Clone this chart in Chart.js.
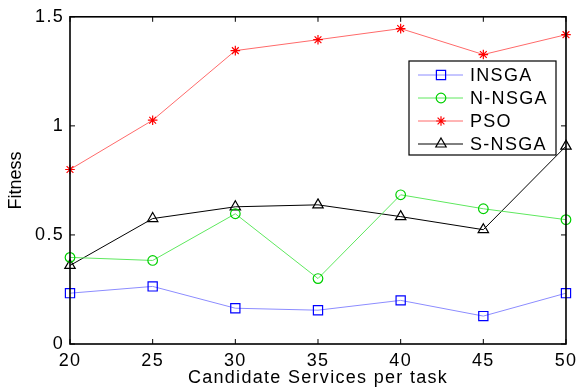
<!DOCTYPE html>
<html><head><meta charset="utf-8">
<script src="https://cdn.jsdelivr.net/npm/chart.js@4"></script>
<style>html,body{margin:0;padding:0;background:#fff}#wrap{width:582px;height:389px}</style>
</head><body><div id="wrap"><canvas id="c" width="582" height="389"></canvas></div>
<script>
const categories = [20, 25, 30, 35, 40, 45, 50];
const insga = [0.233, 0.264, 0.164, 0.155, 0.200, 0.128, 0.233];
const nnsga = [0.397, 0.383, 0.597, 0.300, 0.684, 0.620, 0.570];
const pso = [0.800, 1.026, 1.345, 1.395, 1.446, 1.327, 1.418];
const snsga = [0.360, 0.575, 0.629, 0.638, 0.584, 0.524, 0.907];
const yTicks = [0, 0.5, 1, 1.5];

const FONT = 'Liberation Sans, Arial, sans-serif';
const SPACING = '1.3px';

const series = [
  {label:'INSGA', data:insga, line:'#8c8cff', mark:'#0000ff', style:'rect', r:6.5},
  {label:'N-NSGA', data:nnsga, line:'#5ee85e', mark:'#00d000', style:'circle', r:4.8},
  {label:'PSO', data:pso, line:'#ff6a6a', mark:'#ff0000', style:'star', r:4.8},
  {label:'S-NSGA', data:snsga, line:'#000000', mark:'#000000', style:'triangle', r:6}
];

const spacingPlugin = {
  id:'spacing',
  beforeDraw(chart){ chart.ctx.letterSpacing = SPACING; }
};

const boxTicks = {
  id:'boxTicks',
  afterDatasetsDraw(chart){
    const {ctx, chartArea:a, scales:{x,y}} = chart;
    ctx.save();
    ctx.strokeStyle='#000'; ctx.lineWidth=1;
    const L=5;
    categories.forEach((c,i)=>{
      const px = x.getPixelForValue(i);
      ctx.beginPath();
      ctx.moveTo(px,a.bottom); ctx.lineTo(px,a.bottom-L);
      ctx.moveTo(px,a.top); ctx.lineTo(px,a.top+L);
      ctx.stroke();
    });
    yTicks.forEach(v=>{
      const py = y.getPixelForValue(v);
      ctx.beginPath();
      ctx.moveTo(a.left,py); ctx.lineTo(a.left+L,py);
      ctx.moveTo(a.right,py); ctx.lineTo(a.right-L,py);
      ctx.stroke();
    });
    ctx.lineWidth=1.6;
    ctx.strokeRect(a.left,a.top,a.right-a.left,a.bottom-a.top);
    ctx.restore();
  }
};

const boxLegend = {
  id:'boxLegend',
  afterDraw(chart){
    const ctx = chart.ctx;
    const bx=409, by=61, bw=147, bh=94;
    ctx.save();
    ctx.fillStyle='#fff'; ctx.fillRect(bx,by,bw,bh);
    ctx.strokeStyle='#000'; ctx.lineWidth=1.2; ctx.strokeRect(bx,by,bw,bh);
    const rows=[75,98,121,144];
    chart.data.datasets.forEach((ds,i)=>{
      const yy=rows[i];
      ctx.strokeStyle=ds.borderColor; ctx.lineWidth=1;
      ctx.beginPath(); ctx.moveTo(418,yy); ctx.lineTo(463,yy); ctx.stroke();
      ctx.strokeStyle=ds.pointBorderColor; ctx.fillStyle='rgba(0,0,0,0)'; ctx.lineWidth=1.2;
      Chart.helpers.drawPoint(ctx,{pointStyle:ds.pointStyle,radius:ds.pointRadius,borderWidth:1.2,rotation:0},441,yy);
      ctx.fillStyle='#000'; ctx.font='18px '+FONT; ctx.textBaseline='middle'; ctx.textAlign='left';
      ctx.letterSpacing = SPACING;
      ctx.fillText(ds.label,470,yy+1);
    });
    ctx.restore();
  }
};

new Chart(document.getElementById('c'),{
  type:'line',
  data:{
    labels:categories.map(String),
    datasets:series.map(s=>({
      label:s.label, data:s.data,
      borderColor:s.line, borderWidth:1,
      pointStyle:s.style, pointRadius:s.r,
      pointBorderColor:s.mark, pointBackgroundColor:'rgba(0,0,0,0)',
      pointBorderWidth:1.2, tension:0, fill:false
    }))
  },
  options:{
    responsive:false, animation:false, devicePixelRatio:1,
    layout:{padding:{left:0,right:11,top:15,bottom:0}},
    plugins:{legend:{display:false}, tooltip:{enabled:false}},
    scales:{
      x:{
        offset:false,
        grid:{display:false, drawTicks:false},
        border:{display:false},
        ticks:{color:'#000', font:{family:FONT,size:18}, padding:6, maxRotation:0},
        title:{display:true,text:'Candidate Services per task',color:'#000',font:{family:FONT,size:18},padding:{top:0,bottom:0}},
        afterFit(s){s.height=45;}
      },
      y:{
        min:0,max:1.5,
        grid:{display:false, drawTicks:false},
        border:{display:false},
        afterBuildTicks(s){s.ticks=yTicks.map(v=>({value:v}));},
        ticks:{color:'#000', font:{family:FONT,size:18}, padding:6, callback:v=>String(v)},
        title:{display:true,text:'Fitness',color:'#000',font:{family:FONT,size:18},padding:{top:5,bottom:0}},
        afterFit(s){
          s.width=70;
          if(!s._wrapped){
            const orig = s.drawTitle;
            s.drawTitle = function(){
              const c=this.ctx; const prev=c.letterSpacing;
              c.letterSpacing='0px'; orig.apply(this,arguments); c.letterSpacing=prev;
            };
            s._wrapped=true;
          }
        }
      }
    }
  },
  plugins:[spacingPlugin, boxTicks, boxLegend]
});
</script></body></html>
